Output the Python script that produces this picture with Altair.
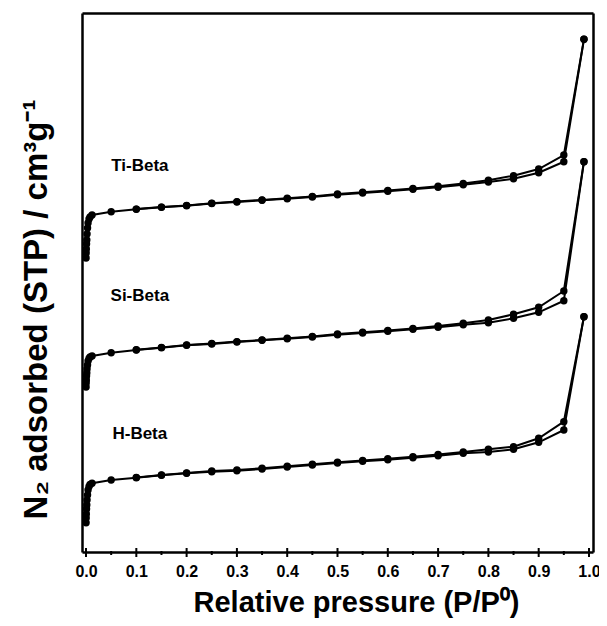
import altair as alt
import pandas as pd

# Relative pressure points (adsorption branch)
p_low = [0.0001, 0.0003, 0.0006, 0.001, 0.0015, 0.002, 0.003, 0.004, 0.006, 0.008, 0.012]
p_main = [0.05, 0.10, 0.15, 0.20, 0.25, 0.30, 0.35, 0.40, 0.45, 0.50, 0.55, 0.60,
          0.65, 0.70, 0.75, 0.80, 0.85, 0.90, 0.95, 0.99]
p_ads = p_low + p_main
# desorption branch (from high to low pressure)
p_des = [0.99, 0.95, 0.90, 0.85, 0.80, 0.75, 0.70, 0.65, 0.60, 0.55, 0.50, 0.45,
         0.40, 0.35, 0.30, 0.25, 0.20, 0.15, 0.10]

# Amount adsorbed (offset, arbitrary units)
ti_ads = [294, 299, 303, 308, 312, 318, 324, 329, 333, 335, 337,
          340.3, 342.7, 344.7, 346.3, 348.5, 350, 351.7, 353.3, 355, 357.3, 359, 360.7,
          362.7, 364.7, 367.3, 370, 373.3, 379.3, 390.3, 512.7]
ti_des = [512.7, 397, 383, 376.3, 371.7, 368.5, 365.7, 363.5, 361.5, 359.7, 358, 355.6,
          353.8, 352.1, 350.4, 348.8, 346.6, 344.9, 342.9]

si_ads = [165, 169, 172, 176, 179, 183, 187, 191, 193.5, 195, 196,
          199.3, 202, 204.3, 206.7, 208, 210, 211.7, 213.3, 215, 217.3, 219, 220.7,
          222.7, 224.7, 227.3, 229.3, 233.7, 239.7, 251.3, 390.3]
si_des = [390.3, 261, 244.7, 237.7, 232, 228.8, 226, 223.6, 221.5, 219.7, 218, 215.6,
          213.8, 212, 210.4, 208.5, 207, 204.6, 202.2]

h_ads = [29.3, 34, 38, 43, 47, 52, 57, 62, 65.5, 67.5, 68.7,
         72, 74.3, 76.7, 78.7, 80.2, 81.3, 83, 85, 87, 89, 90.7, 92.3,
         94.3, 96.3, 98.7, 100, 102.7, 109.7, 122, 235.3]
h_des = [235.3, 130.3, 113.7, 105.3, 102.7, 100, 97.5, 95.3, 93.3, 91.5, 89.8, 87.7,
         85.8, 83.8, 82, 81, 79, 77, 74.6]

samples = ["Ti-Beta", "Si-Beta", "H-Beta"]
label_x = [0.107, 0.107, 0.107]
label_y = [386, 256, 118]

major_ticks = [0.0, 0.1, 0.2, 0.3, 0.4, 0.5, 0.6, 0.7, 0.8, 0.9, 1.0]
minor_ticks = [0.05, 0.15, 0.25, 0.35, 0.45, 0.55, 0.65, 0.75, 0.85, 0.95]

rows = []
for name, ads, des in [("Ti-Beta", ti_ads, ti_des), ("Si-Beta", si_ads, si_des), ("H-Beta", h_ads, h_des)]:
    for i, (p, v) in enumerate(zip(p_ads, ads)):
        rows.append({"sample": name, "branch": "ads", "order": i, "p": p, "v": v})
    for i, (p, v) in enumerate(zip(p_des, des)):
        rows.append({"sample": name, "branch": "des", "order": i, "p": p, "v": v})
df = pd.DataFrame(rows)
df["key"] = df["sample"] + "-" + df["branch"]

labels = pd.DataFrame({"sample": samples, "x": label_x, "y": label_y})
ticks_major = pd.DataFrame({"t": major_ticks})
ticks_minor = pd.DataFrame({"t": minor_ticks})

FONT = "Liberation Sans"
W = 511
H = 539
xscale = alt.Scale(domain=[-0.008, 1.008], nice=False, zero=False)
yscale = alt.Scale(domain=[0, 539], nice=False, zero=False)

xaxis = alt.Axis(values=major_ticks, format=".1f", ticks=False, domain=True, domainColor="black",
                 domainWidth=2.5, grid=False,
                 labelFont=FONT, labelFontWeight="bold", labelFontSize=16, labelColor="black",
                 labelPadding=11, title="Relative pressure (P/P⁰)", titleFont=FONT,
                 titleFontWeight="bold", titleFontSize=29, titleColor="black", titlePadding=9,
                 titleX=274)
yaxis = alt.Axis(ticks=False, labels=False, domain=True, domainColor="black", domainWidth=2.5,
                 grid=False,
                 title="N₂ adsorbed (STP) / cm³g⁻¹", titleFont=FONT, titleFontWeight="bold",
                 titleFontSize=33, titleColor="black", titlePadding=29, titleY=296)
xaxis_top = alt.Axis(orient="top", ticks=False, labels=False, domain=True, domainColor="black",
                     domainWidth=2.5, grid=False, title=None)
yaxis_right = alt.Axis(orient="right", ticks=False, labels=False, domain=True, domainColor="black",
                       domainWidth=2.5, grid=False, title=None)

base = alt.Chart(df)
lines = base.mark_line(color="black", strokeWidth=2).encode(
    x=alt.X("p:Q", scale=xscale, axis=xaxis),
    y=alt.Y("v:Q", scale=yscale, axis=yaxis),
    detail="key:N",
    order="order:Q",
)
points = base.mark_point(filled=True, color="black", size=55, opacity=1).encode(
    x=alt.X("p:Q", scale=xscale, axis=xaxis_top),
    y=alt.Y("v:Q", scale=yscale, axis=yaxis_right),
)
text = alt.Chart(labels).mark_text(font=FONT, fontWeight="bold", fontSize=17, color="black").encode(
    x=alt.X("x:Q", scale=xscale, axis=None),
    y=alt.Y("y:Q", scale=yscale, axis=None),
    text="sample:N",
)
tmaj = alt.Chart(ticks_major).mark_rule(color="black", strokeWidth=2).encode(
    x=alt.X("t:Q", scale=xscale, axis=None),
    y=alt.value(H - 4), y2=alt.value(H + 5),
)
tmin = alt.Chart(ticks_minor).mark_rule(color="black", strokeWidth=2).encode(
    x=alt.X("t:Q", scale=xscale, axis=None),
    y=alt.value(H - 1), y2=alt.value(H + 3),
)

chart = alt.layer(lines, points, text, tmaj, tmin).resolve_axis(
    x="independent", y="independent"
).properties(
    width=W, height=H,
    autosize=alt.AutoSizeParams(type="none"),
    padding={"left": 74, "top": 5, "right": 6, "bottom": 68},
).configure_view(stroke=None).configure(background="white")

chart.save("out.html", embed_options={"renderer": "svg", "actions": False})
